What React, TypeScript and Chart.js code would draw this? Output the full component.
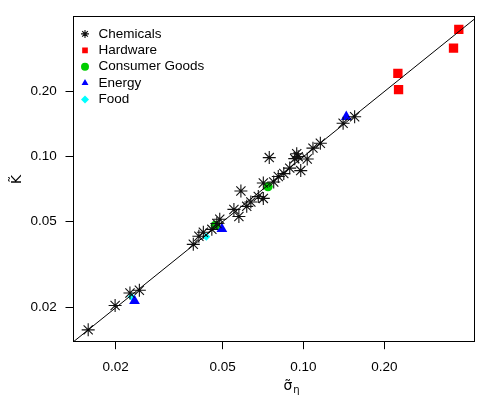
import React, { useEffect, useRef } from 'react';
import { Chart, registerables } from 'chart.js';

Chart.register(...registerables);

const FONT = '"Liberation Sans", Arial, Helvetica, sans-serif';
const MATH_FONT = '"DejaVu Sans", "Liberation Sans", sans-serif';

const tickValues = [0.02, 0.05, 0.1, 0.2];
const xRange = [0.01387, 0.4315];
const yRange = [0.01393, 0.4431];
const refLine = [0.01, 1];

const X_TITLE = 'σ̃';
const X_SUB = 'η';
const Y_TITLE = 'K̃';

const chemicalsX = [0.0158, 0.0199, 0.0226, 0.0245, 0.0389, 0.0408, 0.0424, 0.0456, 0.0476, 0.0488, 0.0551, 0.0575, 0.0585, 0.0615, 0.0637, 0.0679, 0.0709, 0.0709, 0.0746, 0.0775, 0.0806, 0.0845, 0.0889, 0.0928, 0.0944, 0.0956, 0.0977, 0.1033, 0.1085, 0.1156, 0.1405, 0.1551];
const chemicalsY = [0.0158, 0.0205, 0.0234, 0.0241, 0.0393, 0.0428, 0.0447, 0.0461, 0.0491, 0.0513, 0.0570, 0.0529, 0.0694, 0.0589, 0.0617, 0.0654, 0.0641, 0.0755, 0.0990, 0.0763, 0.0809, 0.0835, 0.0885, 0.0979, 0.1032, 0.1000, 0.0862, 0.0976, 0.1095, 0.1154, 0.1427, 0.1529];

const hardwareX = [0.2247, 0.2260, 0.3620, 0.3788];
const hardwareY = [0.2430, 0.2043, 0.3180, 0.3879];

const consumerX = [0.0738, 0.0470];
const consumerY = [0.0727, 0.0481];

const energyX = [0.0235, 0.0497, 0.1444];
const energyY = [0.0215, 0.0463, 0.1529];

const foodX = [0.0229, 0.0435];
const foodY = [0.0225, 0.0426];

const LEGEND_DX = 2.35;
const LEGEND_DY = 7.35;
const X_TITLE_SHIFT = 18;

const toPts = (xs: number[], ys: number[]) => xs.map((x, i) => ({ x, y: ys[i] }));

const framePlugin = {
  id: 'frameAndTitle',
  afterLayout(chart: any) {
    const lg = chart.legend;
    if (lg) {
      const a = chart.chartArea;
      lg.left = a.left + LEGEND_DX;
      lg.top = a.top + LEGEND_DY;
      lg.right = lg.left + lg.width;
      lg.bottom = lg.top + lg.height;
    }
  },
  afterDraw(chart: any) {
    const { ctx, chartArea: a } = chart;
    ctx.save();
    ctx.strokeStyle = '#000';
    ctx.lineWidth = 1;
    const l = Math.floor(a.left) + 0.5;
    const t = Math.floor(a.top) + 0.5;
    const r = Math.floor(a.right) + 0.5;
    const b = Math.floor(a.bottom) + 0.5;
    ctx.strokeRect(l, t, r - l, b - t);

    // x-axis title: sigma-tilde with subscript eta
    const xs = chart.scales.x;
    ctx.fillStyle = '#000';
    ctx.textBaseline = 'alphabetic';
    ctx.textAlign = 'left';
    ctx.font = `14px ${MATH_FONT}`;
    const w1 = ctx.measureText(X_TITLE).width;
    ctx.font = `10px ${MATH_FONT}`;
    const w2 = ctx.measureText(X_SUB).width;
    const total = w1 + 1 + w2;
    const cx = (xs.left + xs.right) / 2 + X_TITLE_SHIFT;
    const base = xs.bottom - 19;
    const x0 = cx - total / 2;
    ctx.font = `14px ${MATH_FONT}`;
    ctx.fillText(X_TITLE, x0, base);
    ctx.font = `10px ${MATH_FONT}`;
    ctx.fillText(X_SUB, x0 + w1 + 1, base + 3);
    ctx.restore();
  },
};

export default function App() {
  const ref = useRef<HTMLCanvasElement>(null);
  useEffect(() => {
    document.body.style.margin = '0';
    const canvas = ref.current!;
    const tickFont = { size: 13.5, family: FONT };
    const chart = new Chart(canvas, {
      type: 'scatter',
      data: {
        datasets: [
          {
            label: 'y = x',
            data: refLine.map((v) => ({ x: v, y: v })),
            showLine: true,
            borderColor: '#000',
            borderWidth: 1,
            pointRadius: 0,
            fill: false,
          },
          {
            label: 'Chemicals',
            data: toPts(chemicalsX, chemicalsY),
            pointStyle: 'star',
            pointRadius: 6.5,
            borderColor: '#111',
            backgroundColor: '#111',
            borderWidth: 1.1,
          },
          {
            label: 'Hardware',
            data: toPts(hardwareX, hardwareY),
            pointStyle: 'rect',
            pointRadius: 6.6,
            borderColor: '#ff0000',
            backgroundColor: '#ff0000',
            borderWidth: 0,
          },
          {
            label: 'Consumer Goods',
            data: toPts(consumerX, consumerY),
            pointStyle: 'circle',
            pointRadius: 4.7,
            borderColor: '#00cd00',
            backgroundColor: '#00cd00',
            borderWidth: 0,
          },
          {
            label: 'Energy',
            data: toPts(energyX, energyY),
            pointStyle: 'triangle',
            pointRadius: 6.2,
            borderColor: '#0000ff',
            backgroundColor: '#0000ff',
            borderWidth: 0,
          },
          {
            label: 'Food',
            data: toPts(foodX, foodY),
            pointStyle: 'rectRot',
            pointRadius: 4,
            borderColor: '#00ffff',
            backgroundColor: '#00ffff',
            borderWidth: 0,
          },
        ],
      },
      options: {
        responsive: false,
        animation: false,
        events: [],
        layout: { padding: { top: 15.7, right: 17, left: 0, bottom: 0 } },
        plugins: {
          tooltip: { enabled: false },
          legend: {
            position: 'chartArea',
            align: 'start',
            labels: {
              usePointStyle: true,
              boxHeight: 5.66,
              padding: 2.9,
              color: '#000',
              font: { size: 13.5, family: FONT },
              filter: (item: any) => item.datasetIndex > 0,
            },
          },
        },
        scales: {
          x: {
            type: 'logarithmic',
            position: 'bottom',
            min: xRange[0],
            max: xRange[1],
            afterBuildTicks: (s: any) => {
              s.ticks = tickValues.map((v) => ({ value: v }));
            },
            afterFit: (s: any) => {
              s.height = 67.3;
            },
            ticks: {
              callback: (v: any) => Number(v).toFixed(2),
              font: tickFont,
              color: '#000',
              padding: 10,
              autoSkip: false,
              maxRotation: 0,
            },
            grid: { drawOnChartArea: false, drawTicks: true, tickLength: 7.5, color: '#000' },
            border: { display: true, color: '#000' },
            title: { display: false },
          },
          y: {
            type: 'logarithmic',
            position: 'left',
            min: yRange[0],
            max: yRange[1],
            afterBuildTicks: (s: any) => {
              s.ticks = tickValues.map((v) => ({ value: v }));
            },
            afterFit: (s: any) => {
              s.width = 73;
            },
            ticks: {
              callback: (v: any) => Number(v).toFixed(2),
              font: tickFont,
              color: '#000',
              padding: 8.8,
              autoSkip: false,
            },
            grid: { drawOnChartArea: false, drawTicks: true, tickLength: 7.5, color: '#000' },
            border: { display: true, color: '#000' },
            title: {
              display: true,
              text: Y_TITLE,
              color: '#000',
              font: { size: 14, family: MATH_FONT },
              padding: { top: 9, bottom: 0 },
            },
          },
        },
      } as any,
      plugins: [framePlugin],
    });
    return () => chart.destroy();
  }, []);
  return (
    <canvas
      ref={ref}
      width={491}
      height={409}
      style={{ display: 'block', width: '491px', height: '409px' }}
    />
  );
}
